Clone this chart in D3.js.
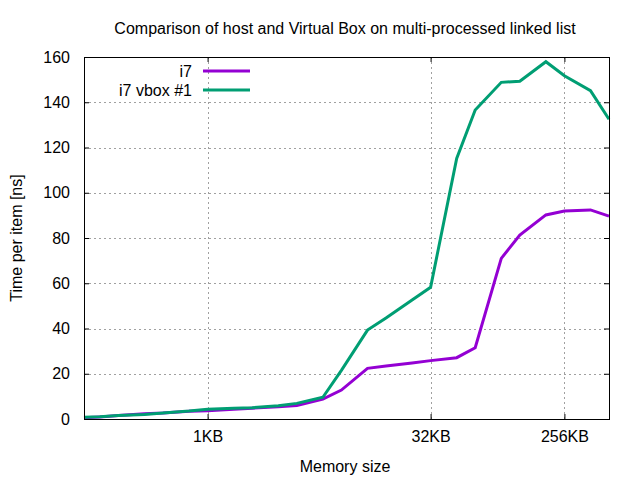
<!DOCTYPE html>
<html><head><meta charset="utf-8">
<script src="https://cdn.jsdelivr.net/npm/d3@7"></script>
<style>body{margin:0;background:#fff}svg{display:block}text{font-family:"Liberation Sans",Arial,sans-serif;fill:#000}</style>
</head><body><svg id="c" width="640" height="480"></svg>
<script>
const sizes = [150, 192, 256, 384, 512, 768, 1024, 1536, 2048, 3072, 4096, 6144, 8192, 12288, 16384, 24576, 32768, 49152, 65536, 98304, 131072, 196608, 262144, 393216, 524288];
const i7 = [0.5, 0.9, 1.5, 2.3, 2.6, 3.4, 3.7, 4.3, 4.8, 5.4, 6.0, 8.8, 12.8, 22.4, 23.4, 24.8, 25.8, 27.1, 31.5, 71.0, 81.3, 90.2, 91.9, 92.4, 89.7];
const vbox = [0.8, 1.0, 1.5, 2.0, 2.7, 3.5, 4.3, 4.7, 5.0, 5.9, 6.9, 9.6, 21.5, 39.3, 44.6, 52.6, 58.2, 115.2, 136.6, 148.8, 149.3, 157.9, 151.7, 145.1, 132.5];
const seriesNames = ["i7", "i7 vbox #1"];
const xTickValues = [1024, 32768, 262144];
const xTickLabels = ["1KB", "32KB", "256KB"];
const yTickValues = [0, 20, 40, 60, 80, 100, 120, 140, 160];
const title = "Comparison of host and Virtual Box on multi-processed linked list";
const xTitle = "Memory size";
const yTitle = "Time per item [ns]";

const L = 84, R = 609, T = 57, B = 419;
const FS = 16;
const svg = d3.select("#c");
const x = d3.scaleLog().base(2).domain([150, 524288]).range([L, R]);
const y = d3.scaleLinear().domain([0, 160]).range([B, T]);

// grid
const g = svg.append("g");
g.selectAll(".gx").data(xTickValues).enter().append("line")
  .attr("x1", d => Math.round(x(d)) + 0.5).attr("x2", d => Math.round(x(d)) + 0.5)
  .attr("y1", T).attr("y2", B)
  .attr("stroke", "#a0a0a0").attr("stroke-dasharray", "2,3");
g.selectAll(".gy").data(yTickValues.slice(1, -1)).enter().append("line")
  .attr("y1", d => Math.round(y(d)) + 0.5).attr("y2", d => Math.round(y(d)) + 0.5)
  .attr("x1", L).attr("x2", R)
  .attr("stroke", "#a0a0a0").attr("stroke-dasharray", "2,3");

// axes
const fmtX = d => xTickLabels[xTickValues.indexOf(d)];
const axB = d3.axisBottom(x).tickValues(xTickValues).tickFormat(fmtX).tickSizeInner(-5).tickSizeOuter(0).tickPadding(12);
const axT = d3.axisTop(x).tickValues(xTickValues).tickFormat("").tickSizeInner(-5).tickSizeOuter(0);
const axL = d3.axisLeft(y).tickValues(yTickValues).tickSizeInner(-5).tickSizeOuter(0).tickPadding(14);
const axR = d3.axisRight(y).tickValues(yTickValues).tickFormat("").tickSizeInner(-5).tickSizeOuter(0);
function style(sel){
  sel.selectAll("path").remove();
  sel.selectAll("line").attr("stroke", "#000");
  sel.selectAll("text").attr("font-size", FS).attr("font-family", '"Liberation Sans",Arial,sans-serif').attr("fill", "#000");
}
svg.append("g").attr("transform", `translate(0,${B})`).call(axB).call(style);
svg.append("g").attr("transform", `translate(0,${T})`).call(axT).call(style);
svg.append("g").attr("transform", `translate(${L},0)`).call(axL).call(style);
svg.append("g").attr("transform", `translate(${R},0)`).call(axR).call(style);

// series
const colors = ["#9400d3", "#009e73"];
const series = [i7, vbox];
const line = d3.line().x(d => x(d[0])).y(d => y(d[1]));
series.forEach((vals, i) => {
  svg.append("path").datum(sizes.map((s, k) => [s, vals[k]]))
    .attr("d", line).attr("fill", "none").attr("stroke", colors[i])
    .attr("stroke-width", 3).attr("stroke-linejoin", "miter");
});

// border
svg.append("rect").attr("x", L + 0.5).attr("y", T + 0.5).attr("width", R - L).attr("height", B - T)
  .attr("fill", "none").attr("stroke", "#000");

// legend
const leg = svg.append("g");
seriesNames.forEach((n, i) => {
  const yy = 71 + i * 19;
  leg.append("text").attr("x", 192).attr("y", yy).attr("dy", "0.35em").attr("text-anchor", "end").attr("font-size", FS).text(n);
  leg.append("line").attr("x1", 203).attr("x2", 250).attr("y1", yy).attr("y2", yy)
    .attr("stroke", colors[i]).attr("stroke-width", 3);
});

// titles
svg.append("text").attr("x", 345).attr("y", 28).attr("dy", "0.35em").attr("text-anchor", "middle").attr("font-size", FS).text(title);
svg.append("text").attr("x", 345).attr("y", 466).attr("dy", "0.35em").attr("text-anchor", "middle").attr("font-size", FS).text(xTitle);
svg.append("text").attr("transform", "translate(16,238) rotate(-90)").attr("dy", "0.35em").attr("text-anchor", "middle").attr("font-size", FS).text(yTitle);
</script></body></html>
